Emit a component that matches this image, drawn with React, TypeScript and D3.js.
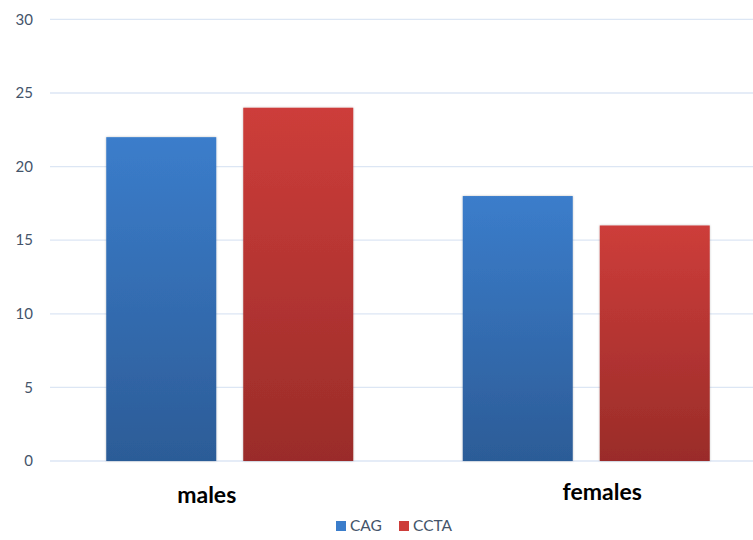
import React, { useEffect, useRef } from 'react';
import * as d3 from 'd3';

const categories = ['males', 'females'];
const series = ['CAG', 'CCTA'];
const cagValues = [22, 18];
const cctaValues = [24, 16];
const yTicks = [0, 5, 10, 15, 20, 25, 30];

const colors: Record<string, [string, string]> = {
  CAG: ['#3b7dcb', '#2c5c97'],
  CCTA: ['#cd3d3a', '#9a2c29'],
};

const App = () => {
  const svgRef = useRef<SVGSVGElement>(null);

  useEffect(() => {
    const width = 753;
    const height = 540;
    const svg = d3.select(svgRef.current)
      .attr('width', width)
      .attr('height', height);
    svg.selectAll('*').remove();

    const font = 'Lato, "Open Sans", sans-serif';

    const y = d3.scaleLinear().domain([0, 30]).range([461, 19.4]);
    const x0 = d3.scaleBand().domain(categories).range([51.5, 764.5]);
    const x1 = d3.scaleBand().domain(series).range([54.75, 301.75]).paddingInner(27 / 137);

    const defs = svg.append('defs');
    series.forEach(s => {
      const g = defs.append('linearGradient')
        .attr('id', `grad-${s}`)
        .attr('x1', 0).attr('y1', 0).attr('x2', 0).attr('y2', 1);
      g.append('stop').attr('offset', '0%').attr('stop-color', colors[s][0]);
      g.append('stop').attr('offset', '100%').attr('stop-color', colors[s][1]);
    });
    const shadow = defs.append('filter').attr('id', 'shadow')
      .attr('x', '-5%').attr('y', '-5%').attr('width', '110%').attr('height', '110%');
    shadow.append('feDropShadow')
      .attr('dx', 0).attr('dy', 0).attr('stdDeviation', 1)
      .attr('flood-color', '#000').attr('flood-opacity', 0.25);

    // grid
    svg.append('g')
      .selectAll('line')
      .data(yTicks)
      .enter()
      .append('line')
      .attr('x1', 50)
      .attr('x2', width)
      .attr('y1', d => y(d))
      .attr('y2', d => y(d))
      .attr('stroke', '#dce6f4')
      .attr('stroke-width', 1.3);

    svg.append('g')
      .selectAll('text')
      .data(yTicks)
      .enter()
      .append('text')
      .attr('x', 33)
      .attr('y', d => y(d))
      .attr('dy', '0.35em')
      .attr('text-anchor', 'end')
      .attr('font-family', font)
      .attr('font-size', 15)
      .attr('fill', '#44546a')
      .text(d => d);

    const rows = categories.map((c, i) => ({ cat: c, CAG: cagValues[i], CCTA: cctaValues[i] }));

    const groups = svg.append('g')
      .selectAll('g')
      .data(rows)
      .enter()
      .append('g')
      .attr('transform', d => `translate(${x0(d.cat)},0)`);

    groups.selectAll('rect')
      .data(d => series.map(s => ({ s, v: (d as any)[s] as number })))
      .enter()
      .append('rect')
      .attr('x', d => x1(d.s)!)
      .attr('width', x1.bandwidth())
      .attr('y', d => y(d.v))
      .attr('height', d => y(0) - y(d.v))
      .attr('fill', d => `url(#grad-${d.s})`)
      .attr('filter', 'url(#shadow)');

    // category labels
    const labelShift: Record<string, number> = { males: -23, females: 16 };
    svg.append('g')
      .selectAll('text')
      .data(categories)
      .enter()
      .append('text')
      .attr('x', d => x0(d)! + x0.bandwidth() / 2 + labelShift[d])
      .attr('y', d => (d === 'males' ? 503 : 500))
      .attr('text-anchor', 'middle')
      .attr('font-family', font)
      .attr('font-weight', 'bold')
      .attr('font-size', 23)
      .attr('fill', '#000')
      .text(d => d);

    // legend
    const legend = svg.append('g').attr('transform', 'translate(336,531)');
    const legendX = [0, 63];
    series.forEach((s, i) => {
      legend.append('rect')
        .attr('x', legendX[i])
        .attr('y', -10)
        .attr('width', 10)
        .attr('height', 10)
        .attr('fill', colors[s][0]);
      legend.append('text')
        .attr('x', legendX[i] + 14)
        .attr('y', 0)
        .attr('font-family', font)
        .attr('font-size', 15.5)
        .attr('fill', '#44546a')
        .text(s);
    });
  }, []);

  return (
    <svg ref={svgRef} style={{ position: 'absolute', left: 0, top: 0 }}></svg>
  );
};

export default App;
